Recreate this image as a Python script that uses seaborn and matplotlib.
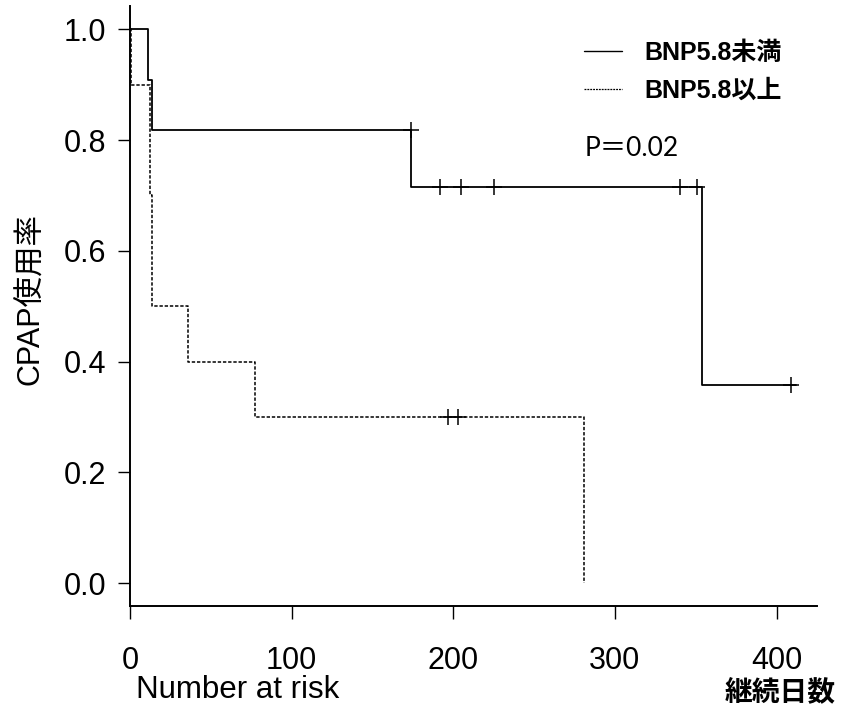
import matplotlib
matplotlib.use("Agg")
import matplotlib.pyplot as plt
from matplotlib.lines import Line2D
import seaborn as sns
import pandas as pd

# Kaplan-Meier steps
low_times = [0, 11, 13.6, 174, 354, 412]
low_surv = [1.0, 0.909, 0.818, 0.716, 0.358, 0.358]
low_cens_t = [174, 192, 205, 225, 340, 350.6, 409]
low_cens_s = [0.818, 0.716, 0.716, 0.716, 0.716, 0.716, 0.358]

high_times = [0, 0.6, 12.4, 13.6, 35.9, 77.3, 281]
high_surv = [1.0, 0.9, 0.7, 0.5, 0.4, 0.3, 0.0]
high_cens_t = [197, 203]
high_cens_s = [0.3, 0.3]

group_labels = ["BNP5.8未満", "BNP5.8以上"]
x_ticks = [0, 100, 200, 300, 400]
y_ticks = [0.0, 0.2, 0.4, 0.6, 0.8, 1.0]

sns.set_style("ticks")
plt.rcParams["font.family"] = ["Liberation Sans", "Noto Sans CJK JP", "DejaVu Sans"]
plt.rcParams["text.color"] = "black"
plt.rcParams["axes.labelcolor"] = "black"

W, H = 854, 710
fig = plt.figure(figsize=(W / 100, H / 100), dpi=100)
ax = fig.add_axes([130 / W, 1 - 606 / H, (817 - 130) / W, (606 - 6) / H])

low_df = pd.DataFrame({"t": low_times, "s": low_surv})
high_df = pd.DataFrame({"t": high_times, "s": high_surv})

sns.lineplot(data=low_df, x="t", y="s", ax=ax, color="black", linewidth=1.3,
             drawstyle="steps-post", estimator=None, sort=False)
sns.lineplot(data=high_df, x="t", y="s", ax=ax, color="black", linewidth=1.1,
             drawstyle="steps-post", estimator=None, sort=False,
             linestyle=(0, (2.2, 1.2)))

ax.plot(low_cens_t, low_cens_s, linestyle="none", marker="+", markersize=11,
        markeredgewidth=1.1, color="black")
ax.plot(high_cens_t, high_cens_s, linestyle="none", marker="+", markersize=11,
        markeredgewidth=1.1, color="black")

ax.set_xlim(0, 425)
ax.set_ylim(-0.0415, 1.042)
ax.set_xticks(x_ticks)
ax.set_xticklabels([str(v) for v in x_ticks])
ax.set_yticks(y_ticks)
ax.set_yticklabels([f"{v:.1f}" for v in y_ticks])
ax.tick_params(direction="out", length=9, width=1.0, labelsize=22, pad=8,
               colors="black")
ax.tick_params(axis="x", pad=20)
for side in ["top", "right"]:
    ax.spines[side].set_visible(False)
for side in ["left", "bottom"]:
    ax.spines[side].set_linewidth(1.4)
    ax.spines[side].set_color("black")
ax.set_xlabel("")
ax.set_ylabel("")

handles = [
    Line2D([], [], color="black", linewidth=1.0),
    Line2D([], [], color="black", linewidth=0.9, linestyle=(0, (1.5, 0.8))),
]
leg = ax.legend(handles, group_labels, loc="upper left",
                bbox_to_anchor=(572 / W, 1 - 28 / H), bbox_transform=fig.transFigure,
                frameon=False, handlelength=1.5, handletextpad=0.9, labelspacing=0.55,
                borderpad=0, prop={"family": ["Liberation Sans", "Noto Sans CJK JP"],
                                   "weight": "bold", "size": 18})
for t in leg.get_texts():
    t.set_color("black")

fig.text(31 / W, 1 - 299 / H, "CPAP使用率", fontsize=22, rotation=90,
         va="center", ha="center")
fig.text(585 / W, 1 - 148 / H, "P＝0.02", fontsize=19, va="center", ha="left",
         family=["Lato", "Noto Sans CJK JP"])
fig.text(136 / W, 1 - 690 / H, "Number at risk", fontsize=22.5, va="center", ha="left")
fig.text(836 / W, 1 - 692 / H, "継続日数", fontsize=20, va="center", ha="right",
         family=["Noto Sans CJK JP"], weight="bold")

fig.savefig("out.png", dpi=100)
